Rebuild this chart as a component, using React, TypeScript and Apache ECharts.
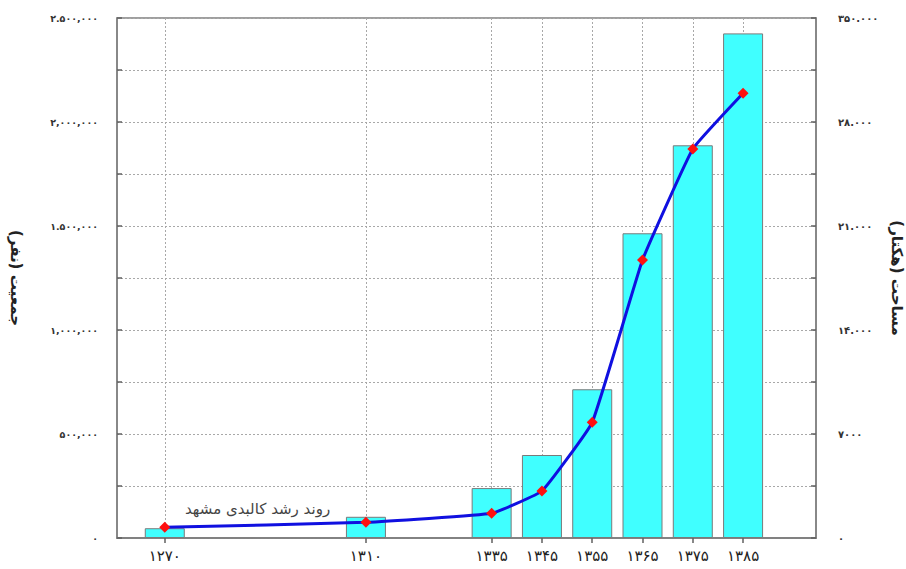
import React, { useEffect, useRef } from "react";
import * as echarts from "echarts";

const years = [1270, 1310, 1335, 1345, 1355, 1365, 1375, 1385];
const yearLabels = ["۱۲۷۰", "۱۳۱۰", "۱۳۳۵", "۱۳۴۵", "۱۳۵۵", "۱۳۶۵", "۱۳۷۵", "۱۳۸۵"];
const population = [47000, 102000, 240000, 399000, 715000, 1465000, 1888000, 2426000];
const area = [720, 1057, 1663, 3163, 7788, 18712, 26183, 29932];
const leftTickValues = [0, 500000, 1000000, 1500000, 2000000, 2500000];
const leftTickLabels = ["۰", "۵۰۰,۰۰۰", "۱,۰۰۰,۰۰۰", "۱.۵۰۰,۰۰۰", "۲,۰۰۰,۰۰۰", "۲.۵۰۰,۰۰۰"];
const rightTickValues = [0, 7000, 14000, 21000, 28000, 35000];
const rightTickLabels = ["۰", "۷۰۰۰", "۱۴.۰۰۰", "۲۱.۰۰۰", "۲۸.۰۰۰", "۳۵۰.۰۰۰"];
const leftAxisName = "جمعیت (نفر)";
const rightAxisName = "مساحت (هکتار)";
const seriesLabel = "روند رشد کالبدی مشهد";

const FONT = "DejaVu Sans";

export default function App() {
  const ref = useRef<HTMLDivElement>(null);
  useEffect(() => {
    document.body.style.margin = "0";
    const chart = echarts.init(ref.current!, null, { renderer: "svg" });
    const gridLine = { show: true, lineStyle: { color: "#a8a8a8", type: [2, 2] as any, width: 1 } };
    chart.setOption({
      animation: false,
      backgroundColor: "#ffffff",
      grid: {
        left: 117,
        right: 90,
        top: 18,
        bottom: 31,
        show: true,
        borderColor: "#808080",
        borderWidth: 1.5,
        outerBoundsMode: "none",
        containLabel: false,
      },
      xAxis: [
        {
          type: "value",
          min: 1260.5,
          max: 1399.5,
          axisLine: { show: true, lineStyle: { color: "#808080", width: 1.5 } },
          axisTick: { show: true, inside: true, length: 4, customValues: years, lineStyle: { color: "#808080" } },
          axisLabel: {
            customValues: years,
            formatter: (v: number) => yearLabels[years.indexOf(v)] ?? "",
            margin: 10,
            color: "#222",
            fontFamily: FONT,
            fontSize: 15,
          },
          splitLine: gridLine,
        },
        {
          type: "value",
          position: "top",
          min: 1260.5,
          max: 1399.5,
          axisLine: { show: true, lineStyle: { color: "#808080", width: 1.5 } },
          axisTick: { show: true, inside: true, length: 5, customValues: years, lineStyle: { color: "#606060", width: 1.5 } },
          axisLabel: { show: false },
          splitLine: { show: false },
        },
      ],
      yAxis: [
        {
          type: "value",
          min: 0,
          max: 2500000,
          interval: 250000,
          name: leftAxisName,
          nameLocation: "middle",
          nameRotate: -90,
          nameGap: 94,
          nameTextStyle: { fontFamily: FONT, fontSize: 15, fontWeight: "bold", color: "#222" },
          axisLine: { show: true, lineStyle: { color: "#808080", width: 1.5 } },
          axisTick: { show: true, inside: true, length: 5, lineStyle: { color: "#606060", width: 1.5 } },
          axisLabel: {
            formatter: (v: number) => {
              const i = leftTickValues.indexOf(v);
              return i >= 0 ? leftTickLabels[i] : "";
            },
            margin: 19,
            color: "#333",
            fontFamily: FONT,
            fontSize: 9.5,
            fontWeight: "bold",
          },
          splitLine: gridLine,
        },
        {
          type: "value",
          min: 0,
          max: 35000,
          interval: 3500,
          name: rightAxisName,
          nameLocation: "middle",
          nameRotate: -90,
          nameGap: 72,
          nameTextStyle: { fontFamily: FONT, fontSize: 15, fontWeight: "bold", color: "#222" },
          axisLine: { show: true, lineStyle: { color: "#808080", width: 1.5 } },
          axisTick: { show: true, inside: true, length: 5, lineStyle: { color: "#606060", width: 1.5 } },
          axisLabel: {
            formatter: (v: number) => {
              const i = rightTickValues.indexOf(v);
              return i >= 0 ? rightTickLabels[i] : "";
            },
            margin: 22,
            color: "#333",
            fontFamily: FONT,
            fontSize: 10,
            fontWeight: "bold",
          },
          splitLine: { show: false },
        },
      ],
      series: [
        {
          type: "bar",
          xAxisIndex: 0,
          yAxisIndex: 0,
          barWidth: 40,
          data: years.map((y, i) => [y, population[i]]),
          itemStyle: { color: "#40ffff", borderColor: "#7a7a7a", borderWidth: 1 },
          z: 2,
        },
        {
          type: "line",
          xAxisIndex: 0,
          yAxisIndex: 1,
          smooth: 0.1,
          data: years.map((y, i) => [y, area[i]]),
          lineStyle: { color: "#1010e0", width: 3 },
          symbol: "diamond",
          symbolSize: 11,
          itemStyle: { color: "#ff1010" },
          z: 3,
        },
      ],
      graphic: [
        {
          type: "text",
          left: 185,
          top: 501,
          style: { text: seriesLabel, fontFamily: FONT, fontSize: 15, fill: "#444" },
          z: 10,
        },
      ],
    });
    return () => chart.dispose();
  }, []);
  return <div ref={ref} style={{ width: 906, height: 569 }} />;
}
